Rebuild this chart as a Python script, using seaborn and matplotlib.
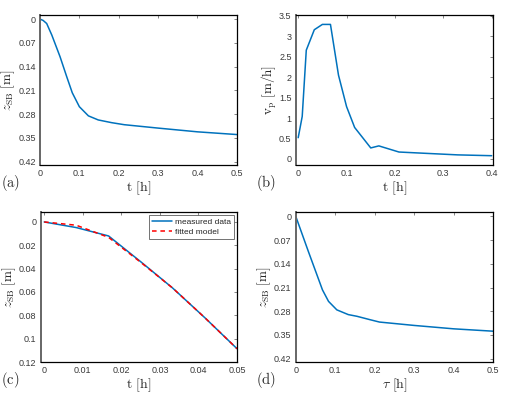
import numpy as np
import pandas as pd
import matplotlib
matplotlib.use('Agg')
import matplotlib.pyplot as plt
import seaborn as sns

# (a) settlement vs time
t_a = [0, 0.008, 0.017, 0.03, 0.051, 0.068, 0.082, 0.1, 0.123, 0.148, 0.182, 0.214, 0.3, 0.4, 0.5]
z_a = [0, 0.004, 0.013, 0.047, 0.111, 0.170, 0.217, 0.258, 0.285, 0.297, 0.305, 0.311, 0.321, 0.332, 0.340]

# (b) velocity vs time
t_b = [0, 0.0083, 0.0167, 0.0333, 0.05, 0.0667, 0.0833, 0.1, 0.1167, 0.15, 0.1667, 0.2083, 0.26, 0.33, 0.4]
v_b = [0.52, 1.04, 2.66, 3.16, 3.29, 3.29, 2.05, 1.28, 0.77, 0.27, 0.32, 0.17, 0.14, 0.10, 0.08]

# (c) fit on first 3 minutes
t_c = [0, 0.0083, 0.0167, 0.025, 0.0333, 0.0417, 0.05]
z_meas = [0, 0.0048, 0.0120, 0.0340, 0.0566, 0.0822, 0.1086]
z_fit = [0, 0.0028, 0.0132, 0.0345, 0.0566, 0.0822, 0.1086]

# (d) settlement vs shifted time
tau_d = [0, 0.032, 0.0676, 0.083, 0.104, 0.133, 0.155, 0.188, 0.212, 0.3, 0.4, 0.5]
z_d = [0, 0.104, 0.217, 0.251, 0.276, 0.290, 0.295, 0.305, 0.312, 0.322, 0.332, 0.339]

sns.set_style('white')
plt.rcParams['mathtext.fontset'] = 'cm'
plt.rcParams['font.family'] = ['Liberation Sans', 'DejaVu Sans']

blue = '#0072BD'
fig = plt.figure(figsize=(5.18, 3.95), dpi=100)

pos = {
    'a': [0.0772, 0.582, 0.380, 0.380],
    'b': [0.571, 0.582, 0.381, 0.380],
    'c': [0.0786, 0.0835, 0.379, 0.380],
    'd': [0.571, 0.0835, 0.381, 0.379],
}


def style(ax, xlabel, ylabel, tag, ylab_x=-0.16):
    ax.tick_params(direction='in', length=2.5, width=0.5, color='#555555',
                   labelsize=6.5, labelcolor='#3a3a3a', top=True, right=True,
                   pad=3)
    for s in ax.spines.values():
        s.set_color('black')
        s.set_linewidth(0.9)
    ax.spines['left'].set_color('#666666')
    ax.spines['left'].set_linewidth(1.4)
    ax.set_xlabel(xlabel, fontsize=10, va='center')
    ax.set_ylabel(ylabel, fontsize=9.5, va='center')
    ax.xaxis.set_label_coords(0.5, -0.155)
    ax.yaxis.set_label_coords(ylab_x, 0.5)
    ax.text(-0.2, -0.12, tag, transform=ax.transAxes, fontsize=10.5,
            va='center')


ax = fig.add_axes(pos['a'])
sns.lineplot(x=t_a, y=z_a, ax=ax, color=blue, linewidth=1.1)
ax.set_xlim(0, 0.5)
ax.set_ylim(0.43, -0.012)
ax.set_yticks([0, 0.07, 0.14, 0.21, 0.28, 0.35, 0.42])
ax.set_yticklabels(['0', '0.07', '0.14', '0.21', '0.28', '0.35', '0.42'])
ax.set_xticks([0, 0.1, 0.2, 0.3, 0.4, 0.5])
ax.set_xticklabels(['0', '0.1', '0.2', '0.3', '0.4', '0.5'])
style(ax, r'$\mathrm{t\ [h]}$', r'$z_{\mathrm{SB}}\ \mathrm{[m]}$', r'$\mathrm{(a)}$')

ax = fig.add_axes(pos['b'])
sns.lineplot(x=t_b, y=v_b, ax=ax, color=blue, linewidth=1.1)
ax.set_xlim(-0.005, 0.403)
ax.set_ylim(-0.15, 3.52)
ax.set_yticks([0, 0.5, 1, 1.5, 2, 2.5, 3, 3.5])
ax.set_yticklabels(['0', '0.5', '1', '1.5', '2', '2.5', '3', '3.5'])
ax.set_xticks([0, 0.1, 0.2, 0.3, 0.4])
ax.set_xticklabels(['0', '0.1', '0.2', '0.3', '0.4'])
style(ax, r'$\mathrm{t\ [h]}$', r'$\mathrm{v_p\ [m/h]}$', r'$\mathrm{(b)}$', ylab_x=-0.135)

ax = fig.add_axes(pos['c'])
df_c = pd.DataFrame({'t': t_c * 2, 'z': z_meas + z_fit,
                     'src': ['measured data'] * len(t_c) + ['fitted model'] * len(t_c)})
sns.lineplot(data=df_c, x='t', y='z', hue='src', style='src', ax=ax,
             palette={'measured data': blue, 'fitted model': 'red'},
             dashes={'measured data': '', 'fitted model': (3, 2.5)},
             linewidth=1.1)
ax.set_xlim(-0.0009, 0.05)
ax.set_ylim(0.12, -0.0086)
ax.set_yticks([0, 0.02, 0.04, 0.06, 0.08, 0.1, 0.12])
ax.set_yticklabels(['0', '0.02', '0.04', '0.06', '0.08', '0.1', '0.12'])
ax.set_xticks([0, 0.01, 0.02, 0.03, 0.04, 0.05])
ax.set_xticklabels(['0', '0.01', '0.02', '0.03', '0.04', '0.05'])
leg = ax.legend(loc='upper right', fontsize=6, frameon=True, fancybox=False,
                borderpad=0.35, handlelength=2.4, handletextpad=0.3,
                labelspacing=0.25, borderaxespad=0.4)
leg.get_frame().set_edgecolor('#333333')
leg.get_frame().set_linewidth(0.6)
style(ax, r'$\mathrm{t\ [h]}$', r'$z_{\mathrm{SB}}\ \mathrm{[m]}$', r'$\mathrm{(c)}$')

ax = fig.add_axes(pos['d'])
sns.lineplot(x=tau_d, y=z_d, ax=ax, color=blue, linewidth=1.1)
ax.set_xlim(0, 0.5)
ax.set_ylim(0.43, -0.012)
ax.set_yticks([0, 0.07, 0.14, 0.21, 0.28, 0.35, 0.42])
ax.set_yticklabels(['0', '0.07', '0.14', '0.21', '0.28', '0.35', '0.42'])
ax.set_xticks([0, 0.1, 0.2, 0.3, 0.4, 0.5])
ax.set_xticklabels(['0', '0.1', '0.2', '0.3', '0.4', '0.5'])
style(ax, r'$\tau\ \mathrm{[h]}$', r'$z_{\mathrm{SB}}\ \mathrm{[m]}$', r'$\mathrm{(d)}$')

fig.savefig('out.png', dpi=100)
